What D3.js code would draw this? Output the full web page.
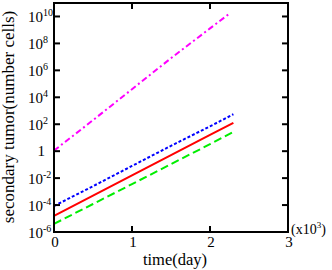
<!DOCTYPE html>
<html><head><meta charset="utf-8">
<script src="https://cdn.jsdelivr.net/npm/d3@7"></script>
<style>body{margin:0;background:#fff}svg{display:block}text{font-family:"Liberation Serif","Times New Roman",serif;fill:#000}</style>
</head><body><svg id="c" width="332" height="270"></svg>
<script>
// time in days (x10^3 shown on axis)
const xTicks = [0, 1000, 2000, 3000];
const xTickLabels = ["0", "1", "2", "3"];
const yTickExps = [-6, -4, -2, 0, 2, 4, 6, 8, 10];
const magentaT = [0, 500, 1000, 1500, 2000, 2260];
const magentaV = [1.1, 2e2, 4e4, 8e6, 1.3e9, 1.8e10];
const blueT = [0, 500, 1000, 1500, 2000, 2300];
const blueV = [8.5e-5, 2.5e-3, 8e-2, 2.5, 70, 5.5e2];
const redT = [0, 500, 1000, 1500, 2000, 2300];
const redV = [1.6e-5, 5e-4, 1.6e-2, 5e-1, 16, 1.25e2];
const greenT = [0, 500, 1000, 1500, 2000, 2300];
const greenV = [4e-6, 1.2e-4, 3.6e-3, 1.1e-1, 3.3, 2.7e1];

const svg = d3.select("#c");
const L = 54, R = 288, T = 3, B = 232;
const x = d3.scaleLinear().domain([0, 3000]).range([L, R]);
const y = d3.scaleLog().domain([1e-6, 1e11]).range([B, T]);

const series = [
  {t: magentaT, v: magentaV, color: "#ff00ff", dash: "6,3,2,3"},
  {t: blueT, v: blueV, color: "#0000ff", dash: "3,2"},
  {t: redT, v: redV, color: "#ff0000", dash: null},
  {t: greenT, v: greenV, color: "#00ee00", dash: "8,4"}
];
const line = d3.line().x(d => x(d[0])).y(d => y(d[1]));
series.forEach(s => {
  const p = svg.append("path").datum(s.t.map((t, i) => [t, s.v[i]]))
    .attr("d", line).attr("fill", "none").attr("stroke", s.color).attr("stroke-width", 2);
  if (s.dash) p.attr("stroke-dasharray", s.dash);
});

// frame
svg.append("rect").attr("x", L).attr("y", T).attr("width", R - L).attr("height", B - T)
  .attr("fill", "none").attr("stroke", "#000").attr("stroke-width", 2);

const tl = 6;
// y ticks (left and right, inward)
yTickExps.forEach(e => {
  const yy = y(Math.pow(10, e));
  svg.append("line").attr("x1", L).attr("x2", L + tl).attr("y1", yy).attr("y2", yy).attr("stroke", "#000").attr("stroke-width", 2);
  svg.append("line").attr("x1", R).attr("x2", R - tl).attr("y1", yy).attr("y2", yy).attr("stroke", "#000").attr("stroke-width", 2);
  if (e === 0) {
    svg.append("text").attr("x", 45).attr("y", yy + 5).attr("text-anchor", "end").attr("font-size", 15).text("1");
  } else {
    svg.append("text").attr("x", 43).attr("y", yy + 5.5).attr("text-anchor", "end").attr("font-size", 15).text("10");
    svg.append("text").attr("x", 43).attr("y", yy - 0.5).attr("font-size", 10).text(String(e));
  }
});
// x ticks (bottom and top, inward)
xTicks.forEach((v, i) => {
  const xx = x(v);
  if (i > 0 && i < xTicks.length - 1) {
    svg.append("line").attr("x1", xx).attr("x2", xx).attr("y1", B).attr("y2", B - tl).attr("stroke", "#000").attr("stroke-width", 2);
    svg.append("line").attr("x1", xx).attr("x2", xx).attr("y1", T).attr("y2", T + tl).attr("stroke", "#000").attr("stroke-width", 2);
  }
  svg.append("text").attr("x", xx + 1).attr("y", 247).attr("text-anchor", "middle").attr("font-size", 15).text(xTickLabels[i]);
});
// multiplier
const m = svg.append("text").attr("x", 291).attr("y", 234).attr("font-size", 14);
m.append("tspan").text("(x10");
m.append("tspan").attr("dy", -6).attr("font-size", 9).text("3");
m.append("tspan").attr("dy", 6).text(")");

svg.append("text").attr("x", 175).attr("y", 265).attr("text-anchor", "middle").attr("font-size", 16.5).text("time(day)");
svg.append("text").attr("transform", "translate(14,117) rotate(-90)").attr("text-anchor", "middle").attr("font-size", 17).text("secondary tumor(number cells)");
</script></body></html>
